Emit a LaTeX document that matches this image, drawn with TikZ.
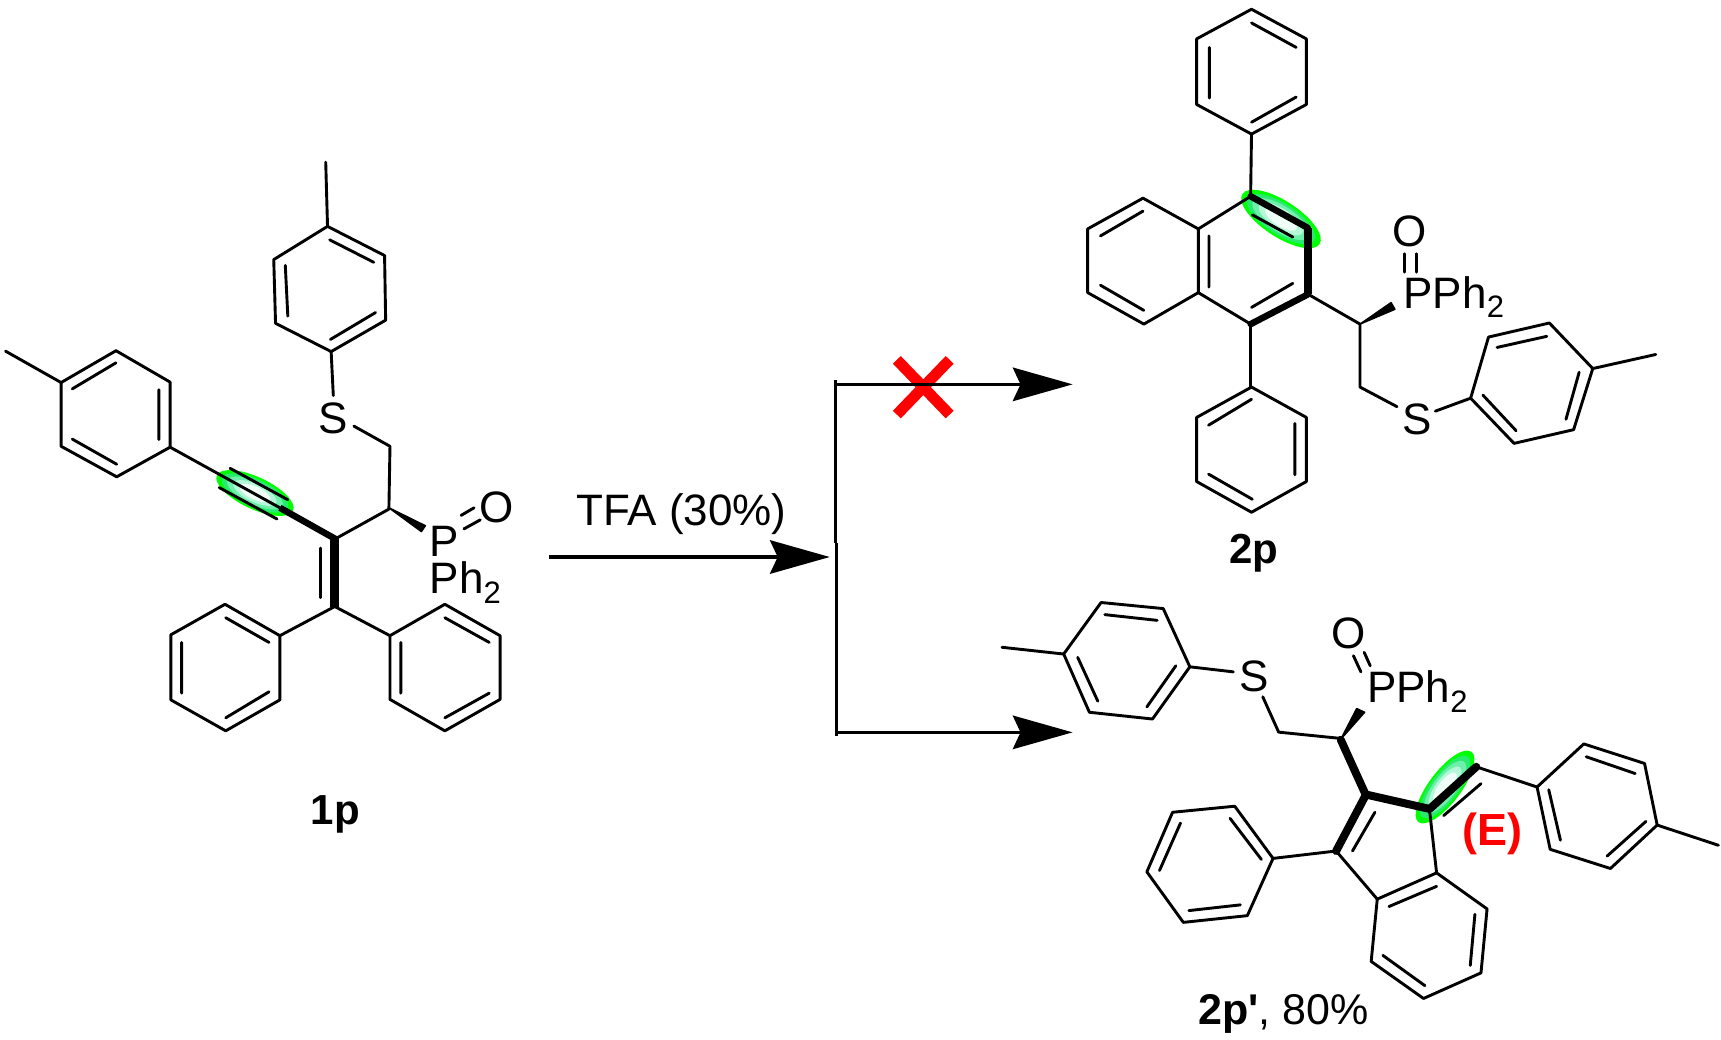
\documentclass[tikz,border=0pt]{standalone}
\usepackage{fontspec}
\setmainfont{Liberation Sans}
\usetikzlibrary{arrows.meta}
\definecolor{gz0}{RGB}{0,255,0}
\definecolor{gz1}{RGB}{40,235,110}
\definecolor{gz2}{RGB}{110,240,170}
\definecolor{gz3}{RGB}{180,248,215}
\definecolor{gz4}{RGB}{240,254,248}
\tikzset{
  bd/.style={line width=2.9pt,line cap=round,line join=round},
  bbd/.style={line width=6.5pt,line cap=round,line join=round},
  vbd/.style={line width=9pt,line cap=butt,line join=round},
  wdg/.style={line width=1.5pt,line join=round},
  lab/.style={anchor=base west,inner sep=0pt,font=\fontsize{44}{44}\selectfont},
  captxt/.style={anchor=base west,inner sep=0pt,font=\fontsize{43}{43}\selectfont},
  rxn/.style={-{Stealth[length=60pt,width=34pt,inset=8pt,line width=0pt]}},
}
\newcommand{\subtwo}{\raisebox{-0.22em}{\fontsize{31}{31}\selectfont 2}}
% x y angle a b
\newcommand{\greenzone}[5]{%
  \foreach \cc/\ss in {gz0/1,gz1/0.86,gz2/0.72,gz3/0.56,gz4/0.4}{%
    \fill[\cc,rotate around={#3:(#1pt,-#2pt)}] (#1pt,-#2pt) ellipse ({#4*\ss*1pt} and {#5*\ss*1pt});
  }%
}
\begin{document}
\begin{tikzpicture}
\useasboundingbox (0,0) rectangle (1721pt,-1040pt);
\fill[white] (0,0) rectangle (1721pt,-1040pt);

% ---------- green highlights
\greenzone{255}{493}{-25}{42}{16}
\greenzone{1281}{219}{-33}{46}{18}
\greenzone{1445}{787}{53}{44}{16}

% ---------- 1p
\begin{scope}[x=0.361pt,y=-0.4488pt,shift={(-1.7pt,-142pt)}]
\draw[bd] (326,465)--(476,535)--(476,680)--(328,746)--(174,678)--(174,536)--cycle;
\draw[bd] (20,466)--(174,536);
\draw[bd] (205,550)--(326,492) (445,552)--(445,663) (205,662)--(328,718);
\draw[bd] (476,680)--(780,815);
\draw[bd] (642,727)--(802,797) (612,770)--(772,840);
\draw[bbd,line cap=butt] (780,815)--(935,885);
\draw[vbd] (932,880)--(932,1037);
\draw[bd] (893,905)--(893,1015);
\draw[bd] (932,885)--(1082,818)--(1085,678)--(985,633);
\draw[bd] (928,565)--(922,467);
\draw[bd] (922,467)--(1073,397)--(1070,253)--(912,188)--(763,262)--(768,404)--cycle;
\draw[bd] (912,188)--(907,45);
\draw[bd] (920,440)--(1045,380) (1040,268)--(918,218) (795,275)--(802,388);
\filldraw[wdg] (1082,815)--(1183,855)--(1172,868)--cycle;
\draw[bd] (1282,832)--(1318,815) (1290,862)--(1335,842);
\draw[bd] (932,1035)--(780,1100) (932,1035)--(1085,1100);
\draw[bd] (780,1100)--(780,1243)--(630,1312)--(478,1243)--(478,1098)--(628,1030)--cycle;
\draw[bd] (750,1115)--(630,1060) (508,1115)--(508,1228) (630,1283)--(750,1225);
\draw[bd] (1085,1100)--(1085,1242)--(1237,1312)--(1390,1242)--(1390,1100)--(1237,1030)--cycle;
\draw[bd] (1115,1115)--(1115,1228) (1237,1283)--(1360,1228) (1360,1115)--(1237,1060);
\node[lab] (s1) at (887,650) {S};
\node[lab,align=left,font=\fontsize{44}{37}\selectfont] (p1) at (1195,1007) {P\\Ph\subtwo};
\node[lab] (o1) at (1333,847) {O};
\node[captxt,font=\fontsize{42}{42}\selectfont\bfseries] (n1p) at (865,1520) {1p};
\end{scope}

% ---------- 2p
\begin{scope}[x=0.4255pt,y=-0.3704pt,shift={(1063pt,0pt)}]
\draw[bd] (443,25)--(572,105)--(572,282)--(443,362)--(314,282)--(314,105)--cycle;
\draw[bd] (443,62)--(548,128) (548,262)--(443,330) (344,128)--(344,265);
\draw[bd] (443,362)--(441,525);
\draw[bd] (188,535)--(58,618)--(58,790)--(190,875)--(318,790)--(318,618)--cycle;
\draw[bd] (188,570)--(88,637) (88,770)--(190,838);
\draw[bd] (318,618)--(441,530) (318,790)--(441,875);
\draw[bd] (343,637)--(343,775) (445,580)--(540,640) (443,830)--(540,765);
\draw[bbd] (441,530)--(575,615);
\draw[vbd,line width=8pt] (575,615)--(575,795);
\draw[bbd] (575,795)--(441,875);
\draw[bd] (441,875)--(441,1045);
\draw[bd] (443,1045)--(572,1127)--(572,1300)--(443,1383)--(314,1300)--(314,1127)--cycle;
\draw[bd] (443,1078)--(342,1148) (545,1143)--(545,1282) (342,1280)--(445,1348);
\draw[bd] (580,797)--(698,875)--(698,1045)--(785,1098);
\filldraw[wdg] (698,875)--(771,817)--(780,835)--cycle;
\draw[bd] (875,1110)--(958,1075);
\draw[bd] (958,1075)--(1000,910)--(1143,872)--(1245,995)--(1200,1160)--(1060,1197)--cycle;
\draw[bd] (1020,938)--(1137,908) (1213,1005)--(1182,1132) (1065,1163)--(987,1067);
\draw[bd] (1245,995)--(1393,957);
\draw[bd] (802,685)--(802,735) (830,685)--(830,735);
\node[lab] (o2) at (775,665) {O};
\node[lab] (p2) at (800,832) {PPh\subtwo};
\node[lab] (s2) at (797,1172) {S};
\node[captxt,font=\fontsize{42}{42}\selectfont\bfseries] (n2p) at (390,1522) {2p};
\end{scope}

% ---------- 2p'
\begin{scope}[x=0.4673pt,y=-0.3367pt,shift={(1002pt,-585pt)}]
\draw[bd] (0,185)--(132,205);
\draw[bd] (132,205)--(212,52)--(345,70)--(402,243)--(322,398)--(187,378)--cycle;
\draw[bd] (220,88)--(332,105) (372,240)--(310,362) (162,215)--(205,345);
\draw[bd] (402,243)--(495,258);
\draw[bd] (558,332)--(592,437)--(720,455);
\filldraw[wdg] (725,458)--(759,367)--(776,378)--cycle;
\draw[bd] (752,210)--(768,258) (775,200)--(788,240);
\draw[bbd,line width=8pt] (725,460)--(778,622)--(915,665)--(1015,540);
\draw[bbd,line width=8pt] (778,625)--(715,790);
\draw[bd] (798,675)--(750,790) (945,685)--(1025,590);
\draw[bd] (1015,540)--(1145,600);
\draw[bd] (915,670)--(930,855);
\draw[bd] (715,790)--(803,933);
\draw[bd] (828,955)--(930,895);
\draw[bd] (930,855)--(1038,962)--(1025,1152)--(902,1228)--(790,1118)--(803,933)--cycle;
\draw[bd] (1012,978)--(1002,1130) (905,1190)--(815,1100);
\draw[bd] (715,790)--(580,812);
\draw[bd] (580,812)--(498,657)--(365,675)--(310,852)--(388,1002)--(525,982)--cycle;
\draw[bd] (555,815)--(488,693) (382,707)--(337,848) (400,967)--(510,950);
\draw[bd] (1145,600)--(1245,472)--(1375,530)--(1402,713)--(1302,842)--(1173,785)--cycle;
\draw[bd] (1250,510)--(1355,560) (1378,702)--(1295,805) (1170,608)--(1195,758);
\draw[bd] (1402,713)--(1533,773);
\node[lab] (s3) at (507,315) {S};
\node[lab] (o3) at (705,188) {O};
\node[lab] (p3) at (781,350) {PPh\subtwo};
\node[captxt,red,font=\fontsize{45}{45}\selectfont\bfseries] (e3) at (985,775) {(E)};
\node[captxt] (n3p) at (420,1305) {\textbf{2p\textquotesingle}, 80\%};
\end{scope}

% ---------- reaction scheme
\begin{scope}[x=0.3571pt,y=-0.3359pt,shift={(544pt,-342.7pt)}]
\coordinate (xa) at (988,51); \coordinate (xb) at (1136,214);
\coordinate (xc) at (1136,51); \coordinate (xd) at (988,214);
\draw[red,line width=11pt] (xa)--(xb) (xc)--(xd);
\coordinate (start) at (14,638); \coordinate (mid) at (800,638);
\coordinate (vt) at (815,112); \coordinate (vm) at (815,595); \coordinate (vn) at (819,595); \coordinate (vb) at (819,1170);
\coordinate (tl) at (815,124); \coordinate (tr) at (1480,124);
\coordinate (bl) at (819,1160); \coordinate (br) at (1480,1160);
\draw[line width=3.5pt,rxn] (start)--(mid);
\draw[line width=3pt] (vt)--(vm);
\draw[line width=3.6pt] (vn)--(vb);
\draw[line width=2.8pt,rxn] (tl)--(tr);
\draw[line width=3.6pt,rxn] (bl)--(br);
\node[captxt,font=\fontsize{44}{44}\selectfont] (tfa) at (90,543) {TFA (30\%)};
\end{scope}
\end{tikzpicture}
\end{document}
